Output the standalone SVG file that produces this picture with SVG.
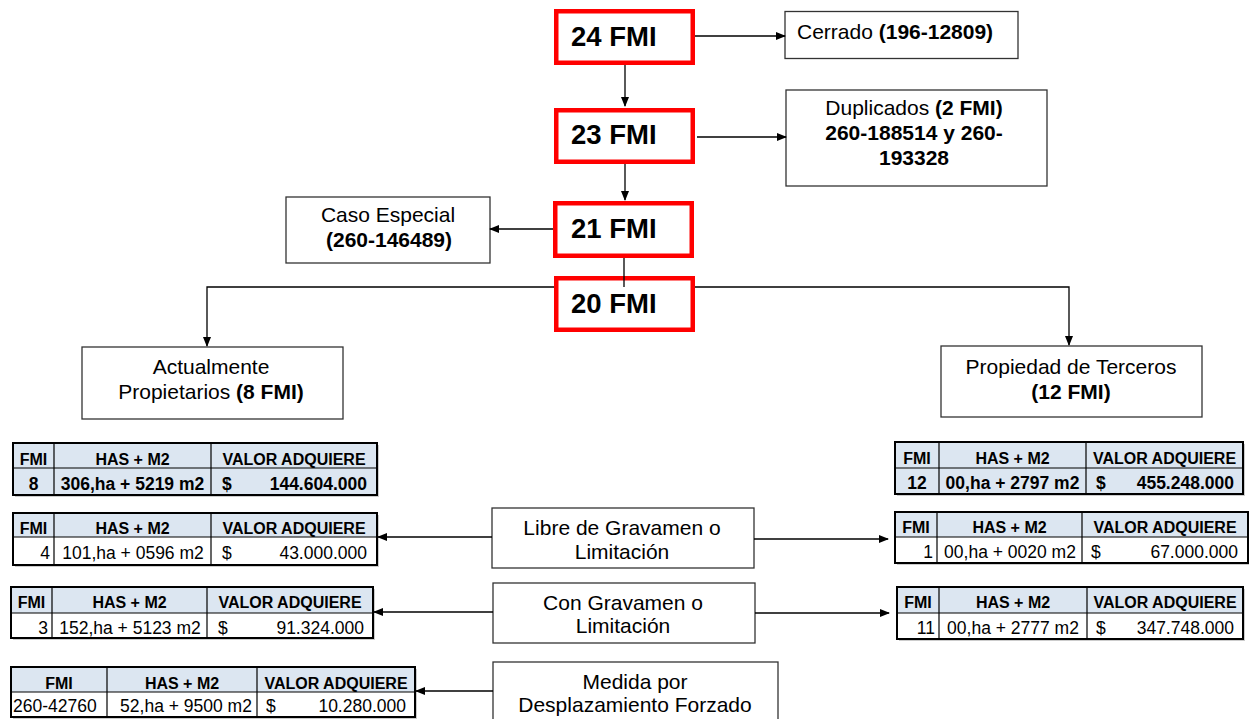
<svg xmlns="http://www.w3.org/2000/svg" width="1249" height="719" viewBox="0 0 1249 719">
<defs>
<marker id="ah" markerWidth="10" markerHeight="8" refX="9" refY="4" orient="auto" markerUnits="userSpaceOnUse">
<path d="M0,0 L10,4 L0,8 z" fill="#000"/>
</marker>
<style>
.red{fill:#fff;stroke:#ff0000;stroke-width:4.5}
.box{fill:#fff;stroke:#333;stroke-width:1.3}
.big{font-family:"Liberation Sans",Arial,sans-serif;font-weight:bold;font-size:27.5px;fill:#000}
.lbl{font-family:"Liberation Sans",Arial,sans-serif;font-size:21px;fill:#000}
.b{font-weight:bold}
.con{fill:none;stroke:#000;stroke-width:1.3}
.tb{fill:none;stroke:#000;stroke-width:2}
.sh{fill:#999;opacity:0.5}
.hf{fill:#dce6f1}
.wf{fill:#fff}
.tl{stroke:#000;stroke-width:1.2}
.th{font-family:"Liberation Sans",Arial,sans-serif;font-weight:bold;font-size:16px;fill:#000}
.td{font-family:"Liberation Sans",Arial,sans-serif;font-size:17.5px;fill:#000}
.tdb{font-family:"Liberation Sans",Arial,sans-serif;font-weight:bold;font-size:17.5px;fill:#000}
</style>
</defs>
<rect width="1249" height="719" fill="#fff"/>

<g id="n24"><rect class="red" x="556.25" y="11.25" width="136.5" height="51.5"/><text class="big" x="571" y="46">24 FMI</text></g>
<g id="n23"><rect class="red" x="556.25" y="110.25" width="136.5" height="51.5"/><text class="big" x="571" y="144">23 FMI</text></g>
<g id="n21"><rect class="red" x="555.25" y="203.25" width="136.5" height="52.5"/><text class="big" x="571" y="238">21 FMI</text></g>
<g id="n20"><rect class="red" x="556.25" y="278.25" width="136.5" height="51.5"/><text class="big" x="571" y="313">20 FMI</text></g>

<g id="cerrado"><rect class="box" x="785" y="11.5" width="233" height="47"/><text class="lbl" x="797" y="39">Cerrado <tspan class="b">(196-12809)</tspan></text></g>
<g id="duplicados"><rect class="box" x="786" y="90" width="261" height="96"/>
<text class="lbl" x="914" y="115" text-anchor="middle">Duplicados <tspan class="b">(2 FMI)</tspan></text>
<text class="lbl b" x="914" y="140" text-anchor="middle">260-188514 y 260-</text>
<text class="lbl b" x="914" y="165" text-anchor="middle">193328</text></g>
<g id="caso"><rect class="box" x="286" y="197" width="204" height="66"/>
<text class="lbl" x="388" y="222" text-anchor="middle">Caso Especial</text>
<text class="lbl b" x="389" y="247" text-anchor="middle">(260-146489)</text></g>
<g id="actual"><rect class="box" x="82" y="347" width="261" height="72"/>
<text class="lbl" x="211" y="374" text-anchor="middle">Actualmente</text>
<text class="lbl" x="211" y="399" text-anchor="middle">Propietarios <tspan class="b">(8 FMI)</tspan></text></g>
<g id="terceros"><rect class="box" x="941" y="346" width="261" height="71"/>
<text class="lbl" x="1071" y="374" text-anchor="middle">Propiedad de Terceros</text>
<text class="lbl b" x="1071" y="399" text-anchor="middle">(12 FMI)</text></g>
<g id="libre"><rect class="box" x="492" y="508" width="262" height="60"/>
<text class="lbl" x="622" y="535" text-anchor="middle">Libre de Gravamen o</text>
<text class="lbl" x="622" y="559" text-anchor="middle">Limitación</text></g>
<g id="con"><rect class="box" x="493" y="583" width="262" height="60"/>
<text class="lbl" x="623" y="610" text-anchor="middle">Con Gravamen o</text>
<text class="lbl" x="623" y="633" text-anchor="middle">Limitación</text></g>
<g id="medida"><rect class="box" x="493" y="662" width="285" height="70"/>
<text class="lbl" x="635" y="689" text-anchor="middle">Medida por</text>
<text class="lbl" x="635" y="712" text-anchor="middle">Desplazamiento Forzado</text></g>

<g id="t1">
<rect class="sh" x="15" y="445" width="364" height="52"/>
<rect class="hf" x="13" y="443" width="364" height="52"/>
<line class="tl" x1="13" y1="468" x2="377" y2="468"/><line class="tl" x1="54" y1="443" x2="54" y2="495"/><line class="tl" x1="211" y1="443" x2="211" y2="495"/>
<rect class="tb" x="13" y="443" width="364" height="52"/>
<text class="th" x="33.5" y="465" text-anchor="middle">FMI</text><text class="th" x="132.5" y="465" text-anchor="middle">HAS + M2</text><text class="th" x="294" y="465" text-anchor="middle">VALOR ADQUIERE</text>
<text class="tdb" x="33.5" y="490" text-anchor="middle">8</text><text class="tdb" x="132.5" y="490" text-anchor="middle">306,ha + 5219 m2</text><text class="tdb" x="222" y="490">$</text><text class="tdb" x="367" y="490" text-anchor="end">144.604.000</text>
</g>
<g id="t2">
<rect class="sh" x="15" y="515" width="364" height="52"/>
<rect class="wf" x="13" y="513" width="364" height="52"/><rect class="hf" x="13" y="513" width="364" height="24"/>
<line class="tl" x1="13" y1="537" x2="377" y2="537"/><line class="tl" x1="54" y1="513" x2="54" y2="565"/><line class="tl" x1="211" y1="513" x2="211" y2="565"/>
<rect class="tb" x="13" y="513" width="364" height="52"/>
<text class="th" x="33.5" y="534" text-anchor="middle">FMI</text><text class="th" x="132.5" y="534" text-anchor="middle">HAS + M2</text><text class="th" x="294" y="534" text-anchor="middle">VALOR ADQUIERE</text>
<text class="td" x="50" y="559" text-anchor="end">4</text><text class="td" x="133" y="559" text-anchor="middle">101,ha + 0596 m2</text><text class="td" x="222" y="559">$</text><text class="td" x="367" y="559" text-anchor="end">43.000.000</text>
</g>
<g id="t3">
<rect class="sh" x="13" y="589" width="362" height="51"/>
<rect class="wf" x="11" y="587" width="362" height="51"/><rect class="hf" x="11" y="587" width="362" height="26"/>
<line class="tl" x1="11" y1="613" x2="373" y2="613"/><line class="tl" x1="52" y1="587" x2="52" y2="638"/><line class="tl" x1="207" y1="587" x2="207" y2="638"/>
<rect class="tb" x="11" y="587" width="362" height="51"/>
<text class="th" x="31.5" y="608" text-anchor="middle">FMI</text><text class="th" x="129.5" y="608" text-anchor="middle">HAS + M2</text><text class="th" x="290" y="608" text-anchor="middle">VALOR ADQUIERE</text>
<text class="td" x="48" y="634" text-anchor="end">3</text><text class="td" x="130" y="634" text-anchor="middle">152,ha + 5123 m2</text><text class="td" x="218" y="634">$</text><text class="td" x="364" y="634" text-anchor="end">91.324.000</text>
</g>
<g id="t4">
<rect class="sh" x="13" y="669" width="404" height="50"/>
<rect class="wf" x="11" y="667" width="404" height="50"/><rect class="hf" x="11" y="667" width="404" height="25"/>
<line class="tl" x1="11" y1="692" x2="415" y2="692"/><line class="tl" x1="107" y1="667" x2="107" y2="717"/><line class="tl" x1="257" y1="667" x2="257" y2="717"/>
<rect class="tb" x="11" y="667" width="404" height="50"/>
<text class="th" x="59" y="689" text-anchor="middle">FMI</text><text class="th" x="182" y="689" text-anchor="middle">HAS + M2</text><text class="th" x="336" y="689" text-anchor="middle">VALOR ADQUIERE</text>
<text class="td" x="13" y="712">260-42760</text><text class="td" x="186" y="712" text-anchor="middle">52,ha + 9500 m2</text><text class="td" x="266" y="712">$</text><text class="td" x="406" y="712" text-anchor="end">10.280.000</text>
</g>
<g id="r1">
<rect class="sh" x="897" y="444" width="348" height="52"/>
<rect class="hf" x="895" y="442" width="348" height="52"/>
<line class="tl" x1="895" y1="468" x2="1243" y2="468"/><line class="tl" x1="939" y1="442" x2="939" y2="494"/><line class="tl" x1="1086" y1="442" x2="1086" y2="494"/>
<rect class="tb" x="895" y="442" width="348" height="52"/>
<text class="th" x="917" y="464" text-anchor="middle">FMI</text><text class="th" x="1012.5" y="464" text-anchor="middle">HAS + M2</text><text class="th" x="1164.5" y="464" text-anchor="middle">VALOR ADQUIERE</text>
<text class="tdb" x="917" y="489" text-anchor="middle">12</text><text class="tdb" x="1012.5" y="489" text-anchor="middle">00,ha + 2797 m2</text><text class="tdb" x="1096" y="489">$</text><text class="tdb" x="1234" y="489" text-anchor="end">455.248.000</text>
</g>
<g id="r2">
<rect class="sh" x="897" y="514" width="353" height="51"/>
<rect class="wf" x="895" y="512" width="353" height="51"/><rect class="hf" x="895" y="512" width="353" height="25"/>
<line class="tl" x1="895" y1="537" x2="1248" y2="537"/><line class="tl" x1="937" y1="512" x2="937" y2="563"/><line class="tl" x1="1082" y1="512" x2="1082" y2="563"/>
<rect class="tb" x="895" y="512" width="353" height="51"/>
<text class="th" x="916" y="533" text-anchor="middle">FMI</text><text class="th" x="1009.5" y="533" text-anchor="middle">HAS + M2</text><text class="th" x="1165" y="533" text-anchor="middle">VALOR ADQUIERE</text>
<text class="td" x="933" y="558" text-anchor="end">1</text><text class="td" x="1010" y="558" text-anchor="middle">00,ha + 0020 m2</text><text class="td" x="1091" y="558">$</text><text class="td" x="1238" y="558" text-anchor="end">67.000.000</text>
</g>
<g id="r3">
<rect class="sh" x="899" y="589" width="346" height="52"/>
<rect class="wf" x="897" y="587" width="346" height="52"/><rect class="hf" x="897" y="587" width="346" height="26"/>
<line class="tl" x1="897" y1="613" x2="1243" y2="613"/><line class="tl" x1="939" y1="587" x2="939" y2="639"/><line class="tl" x1="1087" y1="587" x2="1087" y2="639"/>
<rect class="tb" x="897" y="587" width="346" height="52"/>
<text class="th" x="918" y="608" text-anchor="middle">FMI</text><text class="th" x="1013" y="608" text-anchor="middle">HAS + M2</text><text class="th" x="1165" y="608" text-anchor="middle">VALOR ADQUIERE</text>
<text class="td" x="935" y="634" text-anchor="end">11</text><text class="td" x="1013" y="634" text-anchor="middle">00,ha + 2777 m2</text><text class="td" x="1096" y="634">$</text><text class="td" x="1234" y="634" text-anchor="end">347.748.000</text>
</g>

<g id="connectors">
<line class="con" x1="695" y1="36" x2="785" y2="36" marker-end="url(#ah)"/>
<line class="con" x1="625" y1="65" x2="625" y2="106" marker-end="url(#ah)"/>
<line class="con" x1="697" y1="137" x2="786" y2="137" marker-end="url(#ah)"/>
<line class="con" x1="625" y1="164" x2="625" y2="200" marker-end="url(#ah)"/>
<line class="con" x1="553" y1="229" x2="490" y2="229" marker-end="url(#ah)"/>
<line class="con" x1="624" y1="258" x2="624" y2="287"/>
<polyline class="con" points="554,287 207,287 207,346" marker-end="url(#ah)"/>
<polyline class="con" points="695,287 1069,287 1069,345" marker-end="url(#ah)"/>
<line class="con" x1="492" y1="537" x2="378" y2="537" marker-end="url(#ah)"/>
<line class="con" x1="754" y1="539" x2="888" y2="539" marker-end="url(#ah)"/>
<line class="con" x1="493" y1="612" x2="374" y2="612" marker-end="url(#ah)"/>
<line class="con" x1="755" y1="613" x2="889" y2="613" marker-end="url(#ah)"/>
<line class="con" x1="493" y1="691" x2="416" y2="691" marker-end="url(#ah)"/>
</g>
</svg>
